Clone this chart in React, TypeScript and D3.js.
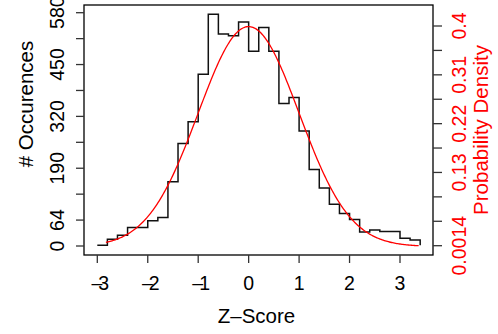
import React from "react";
import * as d3 from "d3";

// Histogram bins (left edges, z-score) and counts; final value closes the step line
const binEdges = [-3.0, -2.8, -2.6, -2.4, -2.2, -2.0, -1.8, -1.6, -1.4, -1.2, -1.0, -0.8, -0.6, -0.4, -0.2, 0.0, 0.2, 0.4, 0.6, 0.8, 1.0, 1.2, 1.4, 1.6, 1.8, 2.0, 2.2, 2.4, 2.6, 2.8, 3.0, 3.2, 3.4];
const counts = [2, 17, 27, 46, 46, 63, 71, 160, 255, 309, 427, 576, 527, 523, 557, 484, 543, 484, 354, 369, 286, 190, 144, 104, 81, 66, 35, 40, 36, 36, 19, 15, 2];

// Normal density curve parameters
const curveMean = 0;
const curveSd = 1;
const curveRange = [-2.83, 3.37];

const xTicks = [-3, -2, -1, 0, 1, 2, 3];
const xTickLabels = ["\u20133", "\u20132", "\u20131", "0", "1", "2", "3"];
const leftTicks = [0, 64.44, 128.89, 193.33, 257.78, 322.22, 386.67, 451.11, 515.56, 580];
const leftTickLabels = ["0", "64", "", "190", "", "320", "", "450", "", "580"];
const rightTicks = [0.0014, 0.0457, 0.09, 0.1343, 0.1786, 0.2228, 0.2671, 0.3114, 0.3557, 0.4];
const rightTickLabels = ["0.0014", "", "", "0.13", "", "0.22", "", "0.31", "", "0.4"];

const W = 498, H = 334;
const box = { left: 84, right: 433, top: 5, bottom: 255 };
const FONT = "'Liberation Sans', Arial, Helvetica, sans-serif";
const RED = "#f00";

export default function App() {
  const x = d3.scaleLinear().domain([-3, 3]).range([97.3, 400.0]);
  const yL = d3.scaleLinear().domain([0, 580]).range([246, 12.7]);
  const yR = d3.scaleLinear().domain([0.0014, 0.4]).range([245.7, 26]);

  const stepLine = d3
    .line<number>()
    .x((_, i) => x(binEdges[i]))
    .y((d) => yL(d))
    .curve(d3.curveStepAfter);

  const n = 300;
  const curvePts = d3.range(n + 1).map((i) => {
    const z = curveRange[0] + ((curveRange[1] - curveRange[0]) * i) / n;
    const dens = Math.exp(-0.5 * ((z - curveMean) / curveSd) ** 2) / (curveSd * Math.sqrt(2 * Math.PI));
    return [z, dens] as [number, number];
  });
  const curveLine = d3
    .line<[number, number]>()
    .x((d) => x(d[0]))
    .y((d) => yR(d[1]));

  const tickFont = 19.5;
  const titleFont = 20.5;

  return (
    <svg width={W} height={H} style={{ position: "absolute", left: 0, top: 0, background: "#fff" }} fontFamily={FONT}>
      <rect x={0} y={0} width={W} height={H} fill="#fff" />
      {/* histogram step */}
      <path d={stepLine(counts) || ""} fill="none" stroke="#111" strokeWidth={1.5} />
      {/* density curve */}
      <path d={curveLine(curvePts) || ""} fill="none" stroke={RED} strokeWidth={1.3} />
      {/* frame */}
      <rect x={box.left} y={box.top} width={box.right - box.left} height={box.bottom - box.top} fill="none" stroke="#000" strokeWidth={1.3} />

      {/* x axis */}
      {xTicks.map((t, i) => {
        const lab = xTickLabels[i];
        const neg = lab.length > 1;
        return (
          <g key={"x" + i}>
            <line x1={x(t)} x2={x(t)} y1={box.bottom} y2={box.bottom + 8} stroke="#333" strokeWidth={1.3} />
            <text
              x={neg ? x(t) + 1 : x(t)}
              y={289.5}
              fontSize={tickFont}
              textAnchor="middle"
              letterSpacing={neg ? -4 : 0}
              fill="#000"
            >
              {lab}
            </text>
          </g>
        );
      })}
      <text x={(box.left + box.right) / 2 - 2} y={323} fontSize={titleFont} textAnchor="middle" fill="#000">
        Z–Score
      </text>

      {/* left axis */}
      {leftTicks.map((t, i) => (
        <g key={"l" + i}>
          <line x1={box.left - 8} x2={box.left} y1={yL(t)} y2={yL(t)} stroke="#333" strokeWidth={1.3} />
          {leftTickLabels[i] && (
            <text transform={`translate(63.5,${yL(t)}) rotate(-90)`} fontSize={tickFont} textAnchor="middle" fill="#000">
              {leftTickLabels[i]}
            </text>
          )}
        </g>
      ))}
      <text transform={`translate(33,104) rotate(-90)`} fontSize={titleFont} textAnchor="middle" fill="#000">
        # Occurences
      </text>

      {/* right axis */}
      {rightTicks.map((t, i) => (
        <g key={"r" + i}>
          <line x1={box.right} x2={box.right + 9} y1={yR(t)} y2={yR(t)} stroke="#333" strokeWidth={1.3} />
          {rightTickLabels[i] && (
            <text transform={`translate(465.5,${yR(t)}) rotate(-90)`} fontSize={tickFont} textAnchor="middle" fill={RED}>
              {rightTickLabels[i]}
            </text>
          )}
        </g>
      ))}
      <text transform={`translate(487.5,130) rotate(-90)`} fontSize={titleFont} textAnchor="middle" fill={RED}>
        Probability Density
      </text>
    </svg>
  );
}
